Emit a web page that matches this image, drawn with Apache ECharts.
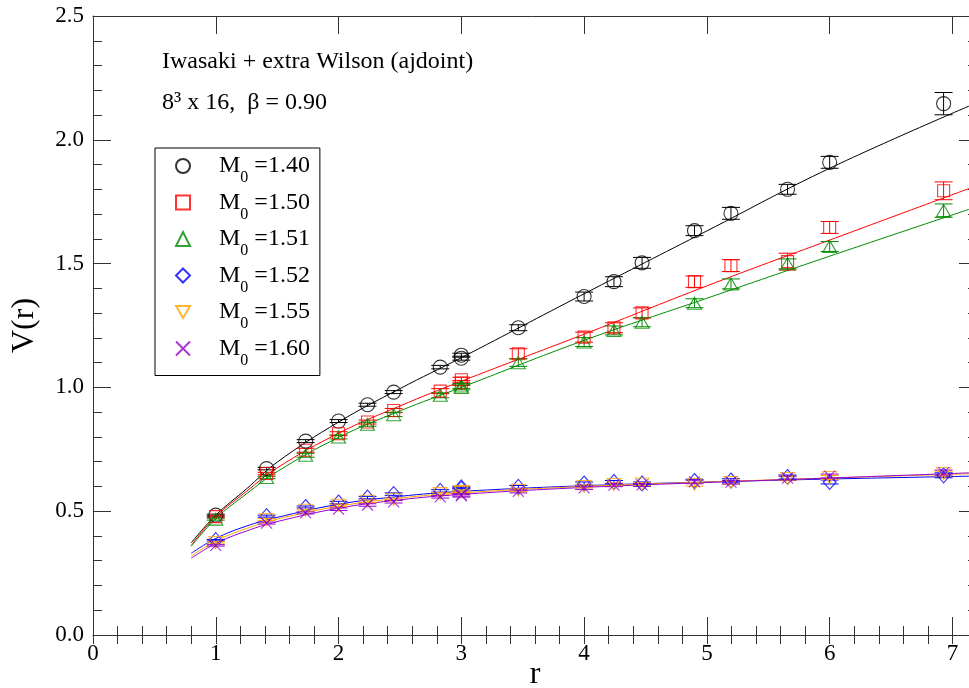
<!DOCTYPE html>
<html lang="en">
<head>
<meta charset="UTF-8">
<title>V(r) - Iwasaki + extra Wilson</title>
<script src="https://cdn.jsdelivr.net/npm/echarts@6.0.0/dist/echarts.min.js"></script>
<style>
    html, body { margin: 0; padding: 0; background: #fff; }
    #chart { width: 969px; height: 688px; }
</style>
</head>
<body>
<div id="chart"></div>
<script>
var SERIF = '"Liberation Serif", "DejaVu Serif", serif';

// separations (lattice units)
var rPts = [1, 1.414, 1.732, 2, 2.236, 2.449, 2.828, 3, 3, 3.464, 4, 4.243, 4.472, 4.899, 5.196, 5.657, 6, 6.928];

// potential values + errors, one pair per M0
var v140 = [0.484, 0.672, 0.783, 0.864, 0.930, 0.981, 1.082, 1.118, 1.130, 1.241, 1.367, 1.427, 1.503, 1.633, 1.703, 1.800, 1.909, 2.146];
var e140 = [0.004, 0.005, 0.006, 0.006, 0.006, 0.006, 0.007, 0.008, 0.008, 0.012, 0.018, 0.02, 0.022, 0.02, 0.024, 0.02, 0.024, 0.045];
var v150 = [0.478, 0.652, 0.746, 0.813, 0.860, 0.907, 0.985, 1.018, 1.031, 1.136, 1.203, 1.241, 1.301, 1.427, 1.492, 1.508, 1.646, 1.794];
var e150 = [0.004, 0.005, 0.008, 0.008, 0.008, 0.008, 0.01, 0.01, 0.01, 0.02, 0.02, 0.02, 0.02, 0.023, 0.024, 0.034, 0.024, 0.036];
var v151 = [0.468, 0.636, 0.726, 0.800, 0.851, 0.890, 0.968, 1.000, 1.006, 1.100, 1.183, 1.230, 1.263, 1.340, 1.418, 1.499, 1.569, 1.714];
var e151 = [0.004, 0.005, 0.008, 0.008, 0.008, 0.008, 0.01, 0.01, 0.01, 0.015, 0.018, 0.018, 0.018, 0.018, 0.02, 0.02, 0.02, 0.027];
var v152 = [0.383, 0.480, 0.517, 0.535, 0.555, 0.569, 0.582, 0.590, 0.596, 0.598, 0.612, 0.618, 0.612, 0.622, 0.624, 0.638, 0.618, 0.645];
var e152 = [0.003, 0.004, 0.004, 0.005, 0.005, 0.005, 0.005, 0.005, 0.005, 0.006, 0.006, 0.006, 0.006, 0.007, 0.007, 0.008, 0.008, 0.01];
var v155 = [0.374, 0.466, 0.504, 0.524, 0.540, 0.548, 0.571, 0.576, 0.580, 0.585, 0.600, 0.608, 0.610, 0.608, 0.616, 0.632, 0.636, 0.652];
var e155 = [0.003, 0.004, 0.004, 0.005, 0.005, 0.005, 0.005, 0.005, 0.005, 0.006, 0.006, 0.006, 0.006, 0.007, 0.007, 0.008, 0.008, 0.01];
var v160 = [0.362, 0.452, 0.493, 0.508, 0.525, 0.538, 0.558, 0.562, 0.566, 0.580, 0.594, 0.605, 0.606, 0.618, 0.617, 0.634, 0.642, 0.656];
var e160 = [0.003, 0.004, 0.004, 0.005, 0.005, 0.005, 0.005, 0.005, 0.005, 0.006, 0.006, 0.006, 0.006, 0.007, 0.007, 0.008, 0.008, 0.01];

// fit curves
var rFit = [0.8, 1, 1.25, 1.5, 2, 2.5, 3, 4, 5, 6, 7.2];
var fit140 = [0.372, 0.484, 0.59, 0.698, 0.86, 0.995, 1.12, 1.378, 1.632, 1.885, 2.15];
var fit150 = [0.362, 0.478, 0.58, 0.675, 0.815, 0.925, 1.025, 1.215, 1.41, 1.595, 1.815];
var fit151 = [0.358, 0.47, 0.57, 0.66, 0.798, 0.905, 1.0, 1.19, 1.36, 1.53, 1.73];
var fit152 = [0.33, 0.39, 0.44, 0.475, 0.528, 0.56, 0.58, 0.603, 0.618, 0.63, 0.642];
var fit155 = [0.318, 0.38, 0.43, 0.468, 0.52, 0.553, 0.574, 0.6, 0.618, 0.634, 0.652];
var fit160 = [0.31, 0.37, 0.42, 0.458, 0.512, 0.546, 0.568, 0.596, 0.616, 0.634, 0.656];

var DOWN_TRI = 'path://M0,0L10,0L5,8.66Z';
var CROSS = 'path://M0,0L10,10M0,10L10,0';

var sets = [
    {name: '1.40', v: v140, e: e140, f: fit140, color: '#000000', symbol: 'circle', size: 14},
    {name: '1.50', v: v150, e: e150, f: fit150, color: '#ff0000', symbol: 'rect', size: 12},
    {name: '1.51', v: v151, e: e151, f: fit151, color: '#008b00', symbol: 'triangle', size: [14, 12]},
    {name: '1.52', v: v152, e: e152, f: fit152, color: '#0000ff', symbol: 'diamond', size: [13, 15]},
    {name: '1.55', v: v155, e: e155, f: fit155, color: '#ffa500', symbol: DOWN_TRI, size: [14, 12]},
    {name: '1.60', v: v160, e: e160, f: fit160, color: '#9400d3', symbol: CROSS, size: 11}
];

var AXIS = '#333';

function errBar(color) {
    return function (params, api) {
        var x = api.value(0), y = api.value(1), e = api.value(2);
        var top = api.coord([x, y + e]);
        var bot = api.coord([x, y - e]);
        var w = 9;
        var st = {stroke: color, lineWidth: 1};
        return {
            type: 'group',
            children: [
                {type: 'line', shape: {x1: top[0], y1: top[1], x2: bot[0], y2: bot[1]}, style: st},
                {type: 'line', shape: {x1: top[0] - w, y1: top[1], x2: top[0] + w, y2: top[1]}, style: st},
                {type: 'line', shape: {x1: bot[0] - w, y1: bot[1], x2: bot[0] + w, y2: bot[1]}, style: st}
            ]
        };
    };
}

var series = [];
sets.forEach(function (s) {
    series.push({
        name: s.name + '_fit',
        type: 'line',
        data: rFit.map(function (r, i) { return [r, s.f[i]]; }),
        smooth: 0.4,
        showSymbol: false,
        silent: true,
        lineStyle: {color: s.color, width: 1},
        z: 2
    });
    series.push({
        name: s.name + '_err',
        type: 'custom',
        data: rPts.map(function (r, i) { return [r, s.v[i], s.e[i]]; }),
        encode: {x: 0, y: 1},
        renderItem: errBar(s.color),
        silent: true,
        z: 3
    });
    series.push({
        name: s.name,
        type: 'scatter',
        data: rPts.map(function (r, i) { return [r, s.v[i]]; }),
        symbol: s.symbol,
        symbolSize: s.size,
        itemStyle: {color: 'transparent', borderColor: s.color, borderWidth: 1.1},
        z: 4
    });
});

var chart = echarts.init(document.getElementById('chart'));
chart.setOption({
    animation: false,
    backgroundColor: '#fff',
    grid: {left: 93, right: -8, top: 16, bottom: 53, containLabel: false, outerBoundsMode: 'none'},
    graphic: [
        {type: 'text', left: 162, top: 50, style: {text: 'Iwasaki + extra Wilson (ajdoint)', font: '24px ' + SERIF, fill: '#000'}},
        {type: 'text', left: 162, top: 91, style: {text: '8\u00b3 x 16,  \u03b2 = 0.90', font: '24px ' + SERIF, fill: '#000'}}
    ],
    legend: {
        orient: 'vertical',
        left: 155,
        top: 148,
        padding: [6, 10, 7, 20],
        itemGap: 4.5,
        itemWidth: 14,
        itemHeight: 14,
        borderColor: '#000',
        borderWidth: 1,
        backgroundColor: '#fff',
        selectedMode: false,
        data: sets.map(function (s) { return s.name; }),
        formatter: function (name) {
            return '{g| }{m|M}{s|0}{m| =' + name + '}';
        },
        textStyle: {
            rich: {
                g: {width: 24},
                m: {fontFamily: SERIF, fontSize: 24, lineHeight: 40, color: '#000'},
                s: {fontFamily: SERIF, fontSize: 16, lineHeight: 17, verticalAlign: 'bottom', color: '#000'}
            }
        }
    },
    xAxis: [
        {
            type: 'value', position: 'bottom', min: 0, max: 7.2, interval: 1,
            axisLine: {show: true, onZero: false, lineStyle: {color: AXIS, width: 1}},
            axisTick: {inside: true, length: 18, lineStyle: {color: AXIS}},
            axisLabel: {showMaxLabel: false, margin: 7, fontFamily: SERIF, fontSize: 23, color: '#000'},
            splitLine: {show: false},
            name: 'r', nameLocation: 'middle', nameGap: 24, nameMoveOverlap: false,
            nameTextStyle: {fontFamily: SERIF, fontSize: 32, color: '#000'}
        },
        {
            type: 'value', position: 'bottom', min: 0, max: 7.2, interval: 0.2,
            axisLine: {show: false},
            axisTick: {inside: true, length: 9, lineStyle: {color: AXIS}},
            axisLabel: {show: false},
            splitLine: {show: false}
        },
        {
            type: 'value', position: 'top', min: 0, max: 7.2, interval: 1,
            axisLine: {show: true, onZero: false, lineStyle: {color: AXIS, width: 1}},
            axisTick: {inside: true, length: 18, lineStyle: {color: AXIS}},
            axisLabel: {show: false},
            splitLine: {show: false}
        },
        {
            type: 'value', position: 'top', min: 0, max: 7.2, interval: 0.2,
            axisLine: {show: false},
            axisTick: {inside: true, length: 9, lineStyle: {color: AXIS}},
            axisLabel: {show: false},
            splitLine: {show: false}
        }
    ],
    yAxis: [
        {
            type: 'value', position: 'left', min: 0, max: 2.5, interval: 0.5,
            axisLine: {show: true, onZero: false, lineStyle: {color: AXIS, width: 1}},
            axisTick: {inside: true, length: 18, lineStyle: {color: AXIS}},
            minorTick: {show: true, splitNumber: 5, length: 9, lineStyle: {color: AXIS}},
            axisLabel: {margin: 9, fontFamily: SERIF, fontSize: 23, color: '#000',
                formatter: function (v) { return v.toFixed(1); }},
            splitLine: {show: false},
            name: 'V(r)', nameLocation: 'middle', nameGap: 52, nameRotate: 90, nameMoveOverlap: false,
            nameTextStyle: {fontFamily: SERIF, fontSize: 32, color: '#000'}
        },
        {
            type: 'value', position: 'right', min: 0, max: 2.5, interval: 0.5,
            axisLine: {show: true, onZero: false, lineStyle: {color: AXIS, width: 1}},
            axisTick: {inside: true, length: 18, lineStyle: {color: AXIS}},
            minorTick: {show: true, splitNumber: 5, length: 9, lineStyle: {color: AXIS}},
            axisLabel: {show: false},
            splitLine: {show: false}
        }
    ],
    series: series
});
</script>
</body>
</html>
